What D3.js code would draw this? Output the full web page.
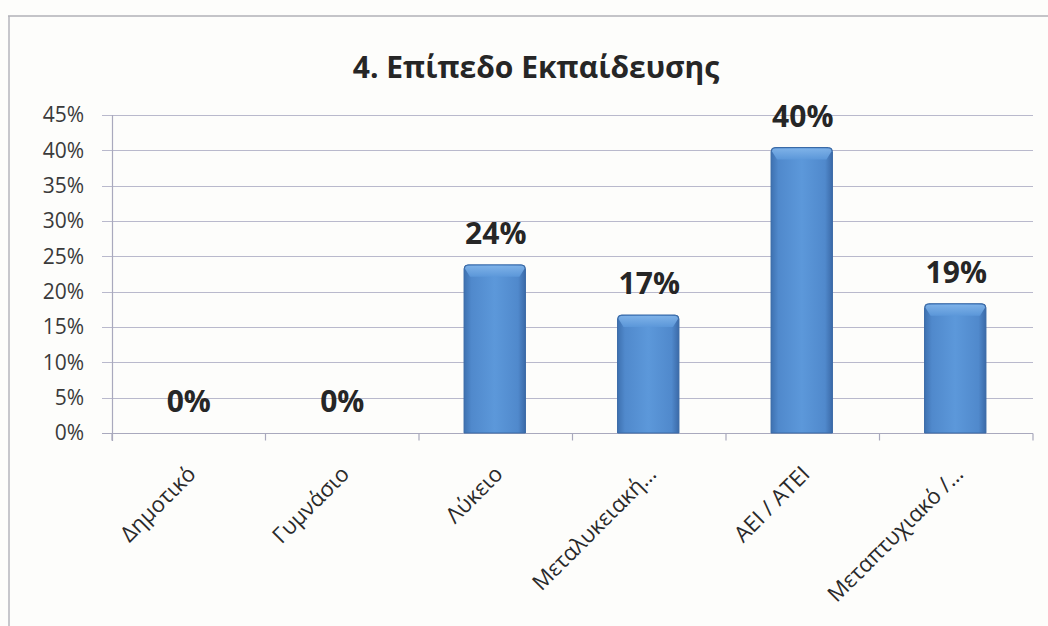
<!DOCTYPE html>
<html><head><meta charset="utf-8">
<script src="https://cdn.jsdelivr.net/npm/d3@7"></script>
<style>
html,body{margin:0;padding:0;background:#fdfdfb;}
svg{display:block;}
</style></head>
<body>
<svg id="chart" width="1048" height="626"></svg>
<script>
const title = "4. Επίπεδο Εκπαίδευσης";
const categories = ["Δημοτικό","Γυμνάσιο","Λύκειο","Μεταλυκειακή…","ΑΕΙ / ΑΤΕΙ","Μεταπτυχιακό /…"];
const values = [0, 0, 0.238, 0.167, 0.404, 0.183];
const valueLabels = ["0%","0%","24%","17%","40%","19%"];
const yTicks = [0,0.05,0.10,0.15,0.20,0.25,0.30,0.35,0.40,0.45];

const svg = d3.select("#chart");
const x = d3.scaleBand().domain(categories).range([112, 1033]).padding(0);
const y = d3.scaleLinear().domain([0,0.45]).range([433, 115]);

// frame
svg.append("line").attr("x1",8).attr("x2",1048).attr("y1",16).attr("y2",16)
  .attr("stroke","#c4c4c8").attr("stroke-width",2);
svg.append("line").attr("x1",9).attr("x2",9).attr("y1",16).attr("y2",626)
  .attr("stroke","#b4b4bc").attr("stroke-width",1.5);

// defs
const defs = svg.append("defs");
const g1 = defs.append("linearGradient").attr("id","barGrad").attr("x1","0").attr("x2","1").attr("y1","0").attr("y2","0");
[["0%","#3e71b0"],["12%","#5089cc"],["50%","#5c98da"],["88%","#5089cc"],["100%","#3b6aa8"]]
  .forEach(s=>g1.append("stop").attr("offset",s[0]).attr("stop-color",s[1]));
const g2 = defs.append("linearGradient").attr("id","topGrad").attr("x1","0").attr("x2","0").attr("y1","0").attr("y2","1");
[["0%","#82b5ea"],["100%","#5c98da"]].forEach(s=>g2.append("stop").attr("offset",s[0]).attr("stop-color",s[1]));

// gridlines
svg.append("g").selectAll("line").data(yTicks).join("line")
  .attr("x1",102).attr("x2",1033)
  .attr("y1",d=>Math.round(y(d))+0.5).attr("y2",d=>Math.round(y(d))+0.5)
  .attr("stroke","#b9b9cc").attr("stroke-width",1.2);

// y axis
const yAxis = d3.axisLeft(y).tickValues(yTicks).tickFormat(d=>Math.round(d*100)+"%").tickSize(0).tickPadding(28);
const ya = svg.append("g").attr("transform","translate(112,0)").call(yAxis);
ya.select(".domain").remove();
ya.selectAll("text").attr("font-family","'Open Sans', sans-serif").attr("font-size",21).attr("fill","#3a3a3a");
svg.append("line").attr("x1",112.5).attr("x2",112.5).attr("y1",115).attr("y2",441)
  .attr("stroke","#a9a9bd").attr("stroke-width",1.2);

// x axis
const xa = svg.append("g").attr("transform","translate(0,433.5)");
xa.append("line").attr("x1",102).attr("x2",1033).attr("stroke","#a9a9bd").attr("stroke-width",1.2);
const bounds = categories.map(c=>x(c)).concat([x.range()[1]]);
xa.selectAll(".tk").data(bounds).join("line").attr("class","tk")
  .attr("x1",d=>d).attr("x2",d=>d).attr("y1",0).attr("y2",7)
  .attr("stroke","#a9a9bd").attr("stroke-width",1.2);

// x labels
svg.append("g").selectAll("text").data(categories).join("text")
  .attr("transform",d=>`translate(${x(d)+x.bandwidth()/2+3},470) rotate(-45)`)
  .attr("text-anchor","end").attr("dy","0.35em")
  .attr("font-family","'Open Sans', sans-serif").attr("font-size",22).attr("fill","#2a2a2a")
  .text(d=>d);

// bars
const bw = x.bandwidth()*0.4;
const bars = svg.append("g");
categories.forEach((c,i)=>{
  const v = values[i];
  if (v<=0) return;
  const bx = x(c)+x.bandwidth()/2-bw/2 - 1;
  const by = y(v);
  bars.append("path")
    .attr("d",`M${bx},${y(0)} L${bx},${by+4} Q${bx},${by} ${bx+4},${by} L${bx+bw-4},${by} Q${bx+bw},${by} ${bx+bw},${by+4} L${bx+bw},${y(0)} Z`)
    .attr("fill","url(#barGrad)").attr("stroke","#3a6aa6").attr("stroke-width",1);
  bars.append("path")
    .attr("d",`M${bx+1},${by+4} Q${bx+1},${by+1} ${bx+4},${by+1} L${bx+bw-4},${by+1} Q${bx+bw-1},${by+1} ${bx+bw-1},${by+4} L${bx+bw-6},${by+12} L${bx+6},${by+12} Z`)
    .attr("fill","url(#topGrad)").attr("opacity",0.9);
});

// value labels
svg.append("g").selectAll("text").data(categories).join("text")
  .attr("x",d=>x(d)+x.bandwidth()/2)
  .attr("y",(d,i)=>y(values[i])-21)
  .attr("text-anchor","middle")
  .attr("font-family","'Open Sans', sans-serif").attr("font-weight","bold").attr("font-size",30)
  .attr("fill","#262626")
  .text((d,i)=>valueLabels[i]);

// title
svg.append("text").attr("x",536).attr("y",78).attr("text-anchor","middle")
  .attr("font-family","'Open Sans', sans-serif").attr("font-weight","bold").attr("font-size",30)
  .attr("fill","#262626").text(title);
</script>
</body></html>
